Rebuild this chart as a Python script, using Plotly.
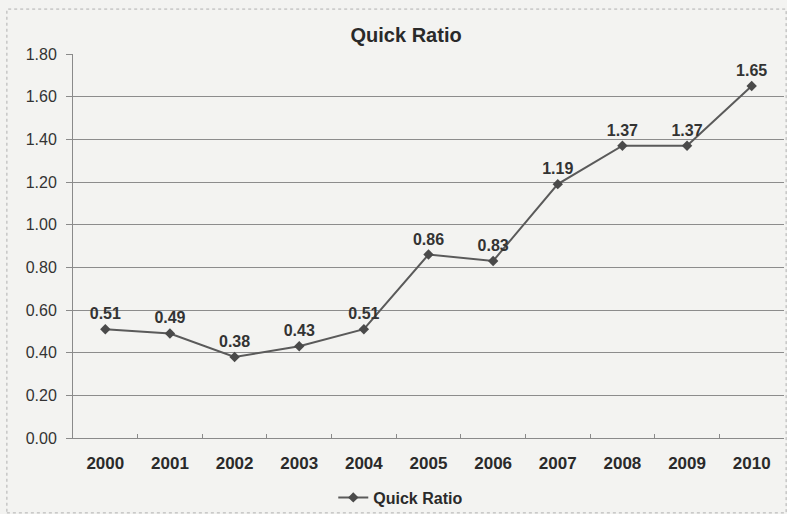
import plotly.graph_objects as go

years = ["2000", "2001", "2002", "2003", "2004", "2005", "2006", "2007", "2008", "2009", "2010"]
quick_ratio = [0.51, 0.49, 0.38, 0.43, 0.51, 0.86, 0.83, 1.19, 1.37, 1.37, 1.65]
y_ticks = [0.0, 0.2, 0.4, 0.6, 0.8, 1.0, 1.2, 1.4, 1.6, 1.8]
series_name = "Quick Ratio"
title_text = "Quick Ratio"

FONT = "Liberation Sans, Arial, sans-serif"

fig = go.Figure()
fig.add_trace(go.Scatter(
    x=years, y=quick_ratio, name=series_name,
    mode="lines+markers+text",
    line=dict(color="#5a5a5a", width=2),
    marker=dict(symbol="diamond", size=8, color="#4a4a4a"),
    text=[f"{v:.2f}" for v in quick_ratio],
    textposition="top center",
    textfont=dict(family=FONT, size=16, color="#333333", weight="bold"),
    cliponaxis=False,
))

fig.update_layout(
    width=787, height=514,
    margin=dict(l=73, r=3, t=54, b=76, autoexpand=False),
    paper_bgcolor="#f3f3f1",
    plot_bgcolor="#f3f3f1",
    title=dict(text=title_text, xref="container", x=0.516, xanchor="center",
               yref="container", y=0.932, yanchor="middle",
               font=dict(family=FONT, size=20, color="#2a2a2a", weight="bold")),
    showlegend=True,
    legend=dict(orientation="h", x=0.461, xanchor="center", y=-0.155, yanchor="middle",
                font=dict(family=FONT, size=16, color="#2a2a2a", weight="bold"),
                bgcolor="rgba(0,0,0,0)"),
    xaxis=dict(
        type="category", showgrid=False, showline=True, linecolor="#8a8a8a", linewidth=1,
        ticks="inside", ticklen=4, tickcolor="#8a8a8a", tickson="boundaries",
        tickfont=dict(family=FONT, size=17, color="#2a2a2a", weight="bold"),
        ticklabelstandoff=10, automargin=False,
        range=[-0.5, 10.5], fixedrange=True,
    ),
    yaxis=dict(
        range=[0, 1.8], tickvals=y_ticks, ticktext=[f"{v:.2f}" for v in y_ticks],
        showgrid=True, gridcolor="#8c8c8c", gridwidth=1,
        showline=True, linecolor="#8a8a8a", linewidth=1,
        ticks="outside", ticklen=6, tickcolor="#8a8a8a",
        ticklabelstandoff=6, automargin=False,
        tickfont=dict(family=FONT, size=16, color="#333333"),
        zeroline=False,
    ),
)

fig.add_shape(type="rect", xref="paper", yref="paper",
              x0=-0.093, x1=1.003, y0=-0.195, y1=1.117,
              line=dict(color="#b0b0b0", width=1, dash="dot"), fillcolor="rgba(0,0,0,0)")

fig.write_html("out.html", config={"displayModeBar": False},
               post_script="document.body.style.margin='0';")
